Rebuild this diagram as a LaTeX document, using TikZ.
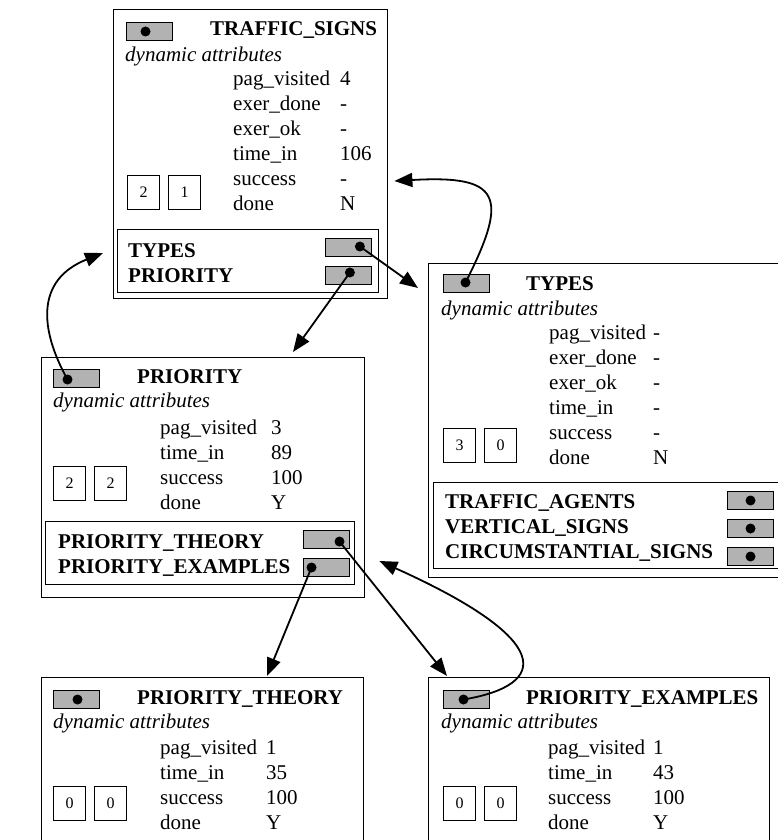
\documentclass[tikz,border=0pt]{standalone}
\usepackage{fontspec}
\setmainfont{Liberation Serif}
\usepackage{tikz}
\usetikzlibrary{positioning, arrows.meta, calc}
\newcommand{\attrsize}{\fontsize{21}{25}\selectfont}

\begin{document}
\begin{tikzpicture}[
    x=1pt, y=-1pt,
    frame/.style={draw, line width=1.4pt, inner sep=0, anchor=north west},
    ptr/.style={draw, line width=1pt, fill=gray!60, minimum width=46pt, minimum height=18pt, inner sep=0, anchor=north west},
    counter/.style={draw, line width=1pt, minimum width=32pt, minimum height=34pt, inner sep=0, anchor=north west, font=\fontsize{16}{16}\selectfont},
    title/.style={font=\attrsize\bfseries, anchor=base west, inner sep=0},
    dyn/.style={font=\attrsize\itshape, anchor=base west, inner sep=0},
    attrs/.style={font=\attrsize, anchor=base west, inner sep=0},
    links/.style={font=\attrsize\bfseries, anchor=base west, inner sep=0},
    dot/.style={circle, fill, inner sep=0, minimum size=10pt},
    arrow/.style={-{Triangle[length=18pt, width=14pt]}, line width=1.8pt}
]
\useasboundingbox (0,0) rectangle (778,840);
\clip (0,0) rectangle (778,840);

% Top: TRAFFIC_SIGNS
\node[frame, minimum width=274pt, minimum height=289pt] (ts) at (113,9) {};
\node[ptr] (ts_ptr) at ($(ts.north west)+(13,13)$) {};
\node[title] (ts_title) at ($(ts.north west)+(97,27)$) {TRAFFIC\_SIGNS};
\node[dyn] (ts_dyn) at ($(ts.north west)+(12,53)$) {dynamic attributes};
\node[attrs] (ts_attrs) at ($(ts.north west)+(120,77)$) {\begin{tabular}[t]{@{}p{107pt}@{}l@{}}
    pag\_visited & 4\\ exer\_done & -\\ exer\_ok & -\\ time\_in & 106\\ success & -\\ done & N
\end{tabular}};
\node[counter] (ts_c1) at ($(ts.north west)+(14,166)$) {2};
\node[counter, right=8pt of ts_c1] (ts_c2) {1};
\node[frame, minimum width=261pt, minimum height=63pt] (ts_sub) at ($(ts.north west)+(4,220)$) {};
\node[links] (ts_links) at ($(ts_sub.north west)+(11,28)$) {\begin{tabular}[t]{@{}l@{}}
    TYPES\\ PRIORITY
\end{tabular}};
\node[ptr] (ts_types_ptr) at ($(ts_sub.north east)+(-54,9)$) {};
\node[ptr, below=9pt of ts_types_ptr] (ts_prio_ptr) {};

% Right: TYPES
\node[frame, minimum width=356pt, minimum height=314pt] (types) at (428,263) {};
\node[ptr] (types_ptr) at ($(types.north west)+(15,11)$) {};
\node[title] (types_title) at ($(types.north west)+(98,27)$) {TYPES};
\node[dyn] (types_dyn) at ($(types.north west)+(13,52)$) {dynamic attributes};
\node[attrs] (types_attrs) at ($(types.north west)+(121,76)$) {\begin{tabular}[t]{@{}p{104pt}@{}l@{}}
    pag\_visited & -\\ exer\_done & -\\ exer\_ok & -\\ time\_in & -\\ success & -\\ done & N
\end{tabular}};
\node[counter] (types_c1) at ($(types.north west)+(15,165)$) {3};
\node[counter, right=8pt of types_c1] (types_c2) {0};
\node[frame, minimum width=347pt, minimum height=86pt] (types_sub) at ($(types.north west)+(5,219)$) {};
\node[links] (types_links) at ($(types_sub.north west)+(12,26)$) {\begin{tabular}[t]{@{}l@{}}
    TRAFFIC\_AGENTS\\ VERTICAL\_SIGNS\\ CIRCUMSTANTIAL\_SIGNS
\end{tabular}};
\node[ptr] (types_agents_ptr) at ($(types_sub.north west)+(294,9)$) {};
\node[ptr, below=9pt of types_agents_ptr] (types_vertical_ptr) {};
\node[ptr, below=9pt of types_vertical_ptr] (types_circ_ptr) {};

% Left: PRIORITY
\node[frame, minimum width=323pt, minimum height=240pt] (prio) at (41,357) {};
\node[ptr] (prio_ptr) at ($(prio.north west)+(12,12)$) {};
\node[title] (prio_title) at ($(prio.north west)+(96,26)$) {PRIORITY};
\node[dyn] (prio_dyn) at ($(prio.north west)+(12,50)$) {dynamic attributes};
\node[attrs] (prio_attrs) at ($(prio.north west)+(119,77)$) {\begin{tabular}[t]{@{}p{111pt}@{}l@{}}
    pag\_visited & 3\\ time\_in & 89\\ success & 100\\ done & Y
\end{tabular}};
\node[counter] (prio_c1) at ($(prio.north west)+(12,109)$) {2};
\node[counter, right=8pt of prio_c1] (prio_c2) {2};
\node[frame, minimum width=309pt, minimum height=63pt] (prio_sub) at ($(prio.north west)+(4,164)$) {};
\node[links] (prio_links) at ($(prio_sub.north west)+(13,27)$) {\begin{tabular}[t]{@{}l@{}}
    PRIORITY\_THEORY\\ PRIORITY\_EXAMPLES
\end{tabular}};
\node[ptr] (prio_theory_ptr) at ($(prio_sub.north west)+(258,9)$) {};
\node[ptr, below=9pt of prio_theory_ptr] (prio_examples_ptr) {};

% Bottom: PRIORITY_THEORY
\node[frame, minimum width=322pt, minimum height=200pt] (pt) at (41,677) {};
\node[ptr] (pt_ptr) at ($(pt.north west)+(12,13)$) {};
\node[title] (pt_title) at ($(pt.north west)+(96,27)$) {PRIORITY\_THEORY};
\node[dyn] (pt_dyn) at ($(pt.north west)+(12,51)$) {dynamic attributes};
\node[attrs] (pt_attrs) at ($(pt.north west)+(119,77)$) {\begin{tabular}[t]{@{}p{106pt}@{}l@{}}
    pag\_visited & 1\\ time\_in & 35\\ success & 100\\ done & Y
\end{tabular}};
\node[counter] (pt_c1) at ($(pt.north west)+(12,109)$) {0};
\node[counter, right=8pt of pt_c1] (pt_c2) {0};

% Bottom: PRIORITY_EXAMPLES
\node[frame, minimum width=341pt, minimum height=200pt] (pe) at (428,677) {};
\node[ptr] (pe_ptr) at ($(pe.north west)+(15,13)$) {};
\node[title] (pe_title) at ($(pe.north west)+(98,27)$) {PRIORITY\_EXAMPLES};
\node[dyn] (pe_dyn) at ($(pe.north west)+(13,51)$) {dynamic attributes};
\node[attrs] (pe_attrs) at ($(pe.north west)+(120,77)$) {\begin{tabular}[t]{@{}p{105pt}@{}l@{}}
    pag\_visited & 1\\ time\_in & 43\\ success & 100\\ done & Y
\end{tabular}};
\node[counter] (pe_c1) at ($(pe.north west)+(15,109)$) {0};
\node[counter, right=8pt of pe_c1] (pe_c2) {0};

% pointer dots
\node[dot] (ts_dot) at ($(ts_ptr.center)+(-4,0)$) {};
\node[dot] (ts_types_dot) at ($(ts_types_ptr.center)+(11,-1)$) {};
\node[dot] (ts_prio_dot) at ($(ts_prio_ptr.center)+(1,-3)$) {};
\node[dot] (types_dot) at ($(types_ptr.center)+(-1,-1)$) {};
\node[dot] (types_agents_dot) at (types_agents_ptr.center) {};
\node[dot] (types_vertical_dot) at (types_vertical_ptr.center) {};
\node[dot] (types_circ_dot) at (types_circ_ptr.center) {};
\node[dot] (prio_dot) at ($(prio_ptr.center)+(-9,1)$) {};
\node[dot] (prio_theory_dot) at ($(prio_theory_ptr.center)+(13,2)$) {};
\node[dot] (prio_examples_dot) at ($(prio_examples_ptr.center)+(-15,0)$) {};
\node[dot] (pt_dot) at ($(pt_ptr.center)+(1,0)$) {};
\node[dot] (pe_dot) at ($(pe_ptr.center)+(-3,0)$) {};

% arrow ends
\coordinate (types_in) at ($(types.north west)+(-10,25)$);
\coordinate (prio_in) at ($(prio.north west)+(252,-5)$);
\coordinate (ts_in_right) at ($(ts.north east)+(6,172)$);
\coordinate (ts_in_left) at ($(ts.north west)+(-10,244)$);
\coordinate (pe_in) at ($(pe.north west)+(19,-1)$);
\coordinate (pt_in) at ($(pt.north west)+(226,-1)$);
\coordinate (prio_in_right) at ($(prio.north east)+(14,204)$);

\draw[arrow] (ts_types_dot.center) -- (types_in);
\draw[arrow] (ts_prio_dot.center) -- (prio_in);
\draw[arrow] (types_dot.center) .. controls (510,195) and (500,175) .. (ts_in_right);
\draw[arrow] (prio_dot.center) .. controls (40,330) and (35,280) .. (ts_in_left);
\draw[arrow] (prio_theory_dot.center) -- (pe_in);
\draw[arrow] (prio_examples_dot.center) -- (pt_in);
\draw[arrow] (pe_dot.center) .. controls (550,685) and (555,640) .. (prio_in_right);

\end{tikzpicture}
\end{document}
